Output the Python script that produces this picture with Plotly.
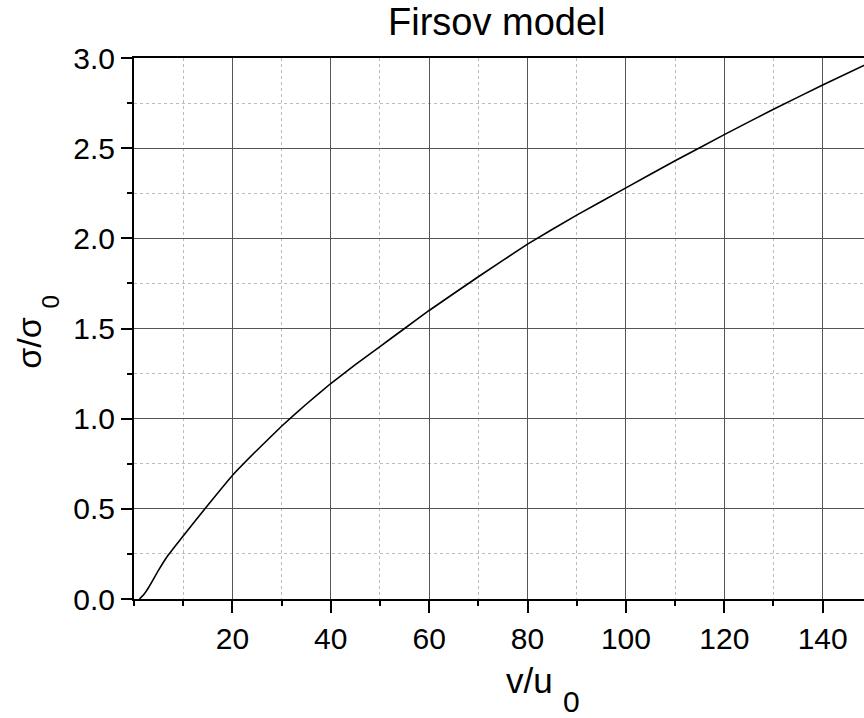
import plotly.graph_objects as go

# Firsov model: normalised cross section vs normalised velocity
v_over_u0 = [1.1, 2, 3, 5, 7, 10, 15, 20, 25, 30, 35, 40, 45, 50, 55, 60,
             70, 80, 90, 100, 110, 120, 130, 140, 150]
sigma_ratio = [0.0, 0.025, 0.065, 0.16, 0.245, 0.35, 0.52, 0.685, 0.825, 0.958,
               1.08, 1.195, 1.30, 1.40, 1.50, 1.60, 1.787, 1.968, 2.129,
               2.28, 2.43, 2.575, 2.716, 2.85, 2.98]

x_ticks = [20, 40, 60, 80, 100, 120, 140]
y_ticks = [0.0, 0.5, 1.0, 1.5, 2.0, 2.5, 3.0]

FONT = "Arial, Liberation Sans, sans-serif"

fig = go.Figure()
fig.add_trace(go.Scatter(
    x=v_over_u0, y=sigma_ratio, mode="lines",
    line=dict(color="black", width=1.6, shape="spline", smoothing=0.3),
    showlegend=False, hoverinfo="skip",
))

fig.update_layout(
    width=864, height=718,
    margin=dict(l=134, r=0, t=58, b=119, pad=0),
    paper_bgcolor="white", plot_bgcolor="white",
    font=dict(family=FONT, color="black"),
)

fig.update_xaxes(
    range=[0, 148.4],
    tickmode="array", tickvals=x_ticks,
    ticks="outside", ticklen=12, tickwidth=2, tickcolor="black",
    tickfont=dict(size=30, family=FONT),
    showline=True, linewidth=2, linecolor="black", mirror=True,
    showgrid=True, gridcolor="#555555", gridwidth=1,
    zeroline=False,
    minor=dict(tick0=0, dtick=10, ticks="outside", ticklen=5, tickwidth=2,
               tickcolor="black", showgrid=True, gridcolor="#bbbbbb",
               griddash="dot", gridwidth=1),
)
fig.update_yaxes(
    range=[0, 3.0],
    tickmode="array", tickvals=y_ticks, tickformat=".1f",
    ticks="outside", ticklen=11, tickwidth=2, tickcolor="black",
    tickfont=dict(size=30, family=FONT),
    showline=True, linewidth=2, linecolor="black", mirror=False,
    showgrid=True, gridcolor="#555555", gridwidth=1,
    zeroline=False,
    minor=dict(tick0=0, dtick=0.25, ticks="outside", ticklen=5, tickwidth=2,
               tickcolor="black", showgrid=True, gridcolor="#bbbbbb",
               griddash="dot", gridwidth=1),
)

# chart title
fig.add_annotation(
    text="Firsov model", xref="paper", yref="paper", x=0.497, y=1.0,
    yshift=13, xanchor="center", yanchor="bottom", showarrow=False,
    font=dict(size=38, family=FONT),
)
# x axis title: "v/u" with a large subscript 0
fig.add_annotation(
    text="v/u", xref="paper", yref="paper", x=0.5767, y=0,
    yshift=-60, xanchor="right", yanchor="top", showarrow=False,
    font=dict(size=35, family=FONT),
)
fig.add_annotation(
    text="0", xref="paper", yref="paper", x=0.585, y=0,
    yshift=-84, xanchor="left", yanchor="top", showarrow=False,
    font=dict(size=30, family=FONT),
)
# y axis title: "σ/σ" with subscript 0, both rotated
fig.add_annotation(
    text="σ/σ", xref="paper", yref="paper", x=0, y=0.472,
    xshift=-84, xanchor="right", yanchor="middle", textangle=-90,
    showarrow=False, font=dict(size=34, family=FONT),
)
fig.add_annotation(
    text="0", xref="paper", yref="paper", x=0, y=0.549,
    xshift=-68, xanchor="right", yanchor="middle", textangle=-90,
    showarrow=False, font=dict(size=24, family=FONT),
)

fig.write_html("out.html")
